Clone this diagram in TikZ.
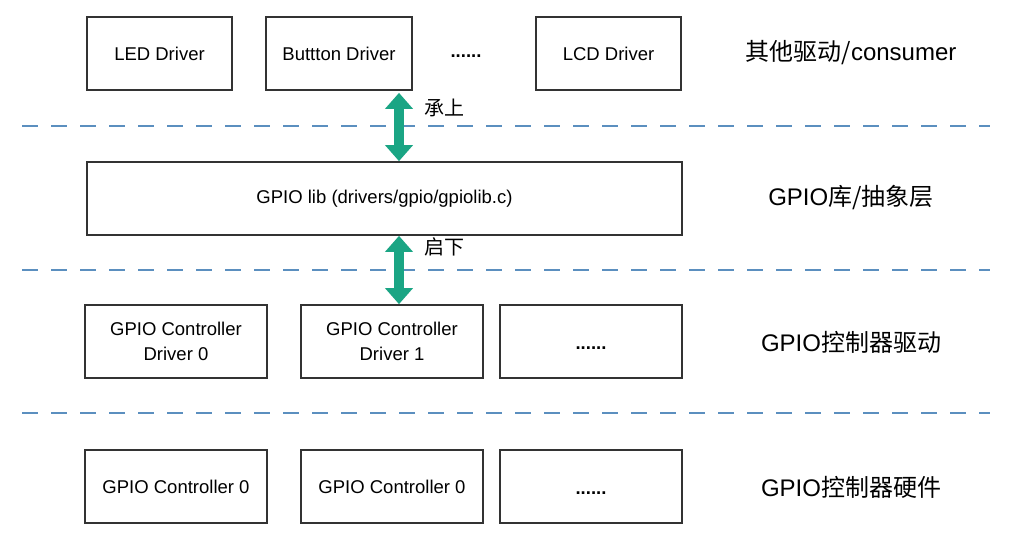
\documentclass[tikz,border=0pt]{standalone}
\usepackage{fontspec}
\setmainfont{Liberation Sans}
\newfontfamily\cjk{Noto Sans CJK SC}
\usetikzlibrary{arrows.meta}
\definecolor{boxline}{HTML}{333333}
\definecolor{dashblue}{HTML}{5B8FBF}
\definecolor{teal}{HTML}{1AA584}
\tikzset{
  blk/.style={draw=boxline, line width=1.7pt, inner sep=0pt, minimum height=73pt, align=center, font=\fontsize{18.5}{25}\selectfont},
  sep/.style={draw=dashblue, line width=2pt, dash pattern=on 16pt off 13pt},
  lab/.style={font=\fontsize{24}{28}\selectfont, inner sep=0pt},
  bigarrow/.style={draw=teal, line width=10pt, {Triangle[width=27pt,length=16pt]}-{Triangle[width=27pt,length=16pt]}},
  note/.style={font=\cjk\fontsize{20}{24}\selectfont, inner sep=0pt}
}
\begin{document}
\begin{tikzpicture}[x=1pt,y=-1pt]
\useasboundingbox (0,0) rectangle (1024,551);
% separators
\draw[sep] (22,126) -- (990,126);
\draw[sep] (22,270) -- (990,270);
\draw[sep] (22,413) -- (990,413);
% row 1
\node[blk, minimum width=145pt] (led) at (159.5,53.5) {LED Driver};
\node[blk, minimum width=146pt] (btn) at (339,53.5) {Buttton Driver};
\node[inner sep=0pt, font=\fontsize{18.5}{22}\selectfont\bfseries] (tdots) at (466,56) {......};
\node[blk, minimum width=145pt] (lcd) at (608.5,53.5) {LCD Driver};
% row 2
\node[blk, minimum width=595pt] (lib) at (384.5,198.5) {GPIO lib (drivers/gpio/gpiolib.c)};
% row 3
\node[blk, minimum width=182pt] (cd0) at (176,341.5) {GPIO Controller\\Driver 0};
\node[blk, minimum width=182pt] (cd1) at (392,341.5) {GPIO Controller\\Driver 1};
\node[blk, minimum width=182pt] (cd2) at (591,341.5) {\smash{\raisebox{-8pt}{\bfseries......}}};
% row 4
\node[blk, minimum width=182pt] (c0) at (176,486.5) {GPIO Controller 0};
\node[blk, minimum width=182pt] (c1) at (392,486.5) {GPIO Controller 0};
\node[blk, minimum width=182pt] (c2) at (591,486.5) {\smash{\raisebox{-8pt}{\bfseries......}}};
% arrows
\coordinate (ax) at (399,0);
\draw[bigarrow, shorten <=2pt] (btn.south -| ax) -- (lib.north -| ax);
\draw[bigarrow] (lib.south -| ax) -- (cd1.north -| ax);
\node[note] (up) at (444,108) {承上};
\node[note] (down) at (444,247) {启下};
% right labels
\node[lab] (l1) at (851,53) {{\cjk 其他驱动/}consumer};
\node[lab] (l2) at (851,198) {GPIO{\cjk 库/抽象层}};
\node[lab] (l3) at (851,342) {GPIO{\cjk 控制器驱动}};
\node[lab] (l4) at (851,487) {GPIO{\cjk 控制器硬件}};
\end{tikzpicture}
\end{document}
